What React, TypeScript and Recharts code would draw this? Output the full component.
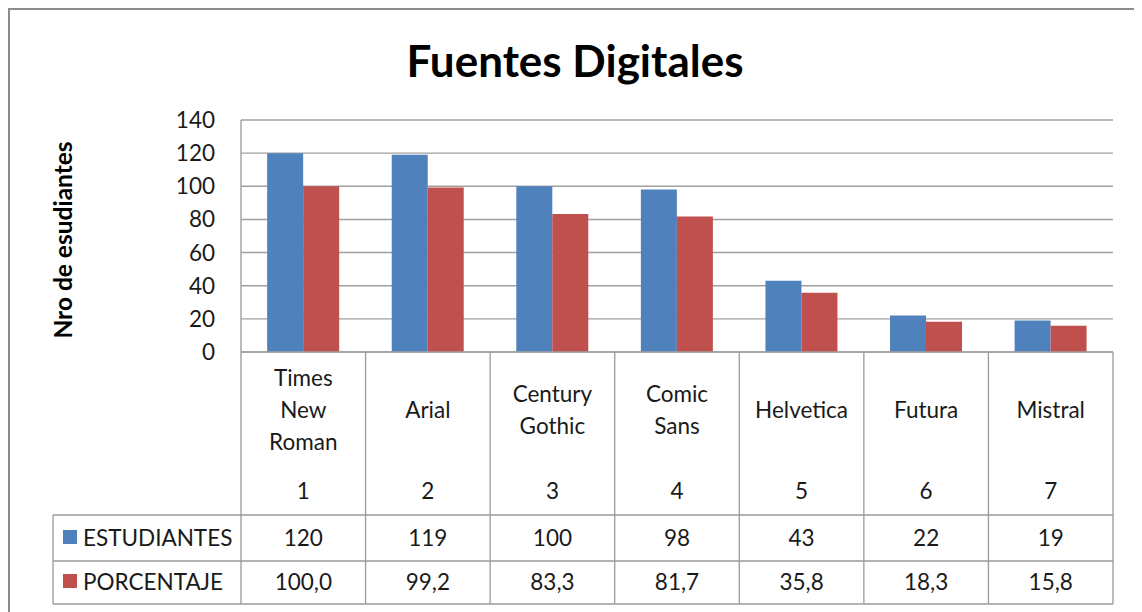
import React from "react";
import { BarChart, Bar, XAxis, YAxis, CartesianGrid } from "recharts";

const categories = [
  "Times New Roman",
  "Arial",
  "Century Gothic",
  "Comic Sans",
  "Helvetica",
  "Futura",
  "Mistral",
];
const categoryLines = [
  ["Times", "New", "Roman"],
  ["Arial"],
  ["Century", "Gothic"],
  ["Comic", "Sans"],
  ["Helvetica"],
  ["Futura"],
  ["Mistral"],
];
const categoryNumbers = ["1", "2", "3", "4", "5", "6", "7"];
const estudiantes = [120, 119, 100, 98, 43, 22, 19];
const porcentaje = [100.0, 99.2, 83.3, 81.7, 35.8, 18.3, 15.8];
const yTicks = [0, 20, 40, 60, 80, 100, 120, 140];

const data = categories.map((name, i) => ({
  name,
  ESTUDIANTES: estudiantes[i],
  PORCENTAJE: porcentaje[i],
}));

const W = 1134;
const H = 604;
const margin = { top: 112, right: 29, left: 0, bottom: 8 };
const Y_AXIS_W = 233;
const X_AXIS_H = 252;
const PLOT_W = W - margin.left - margin.right - Y_AXIS_W;
const BAND = PLOT_W / categories.length;

const BLUE = "#4F81BD";
const RED = "#C0504D";
const GRID = "#a0a0a0";
const TABLE = "#9a9a9a";
const FONT = "Lato, 'Noto Sans', sans-serif";
const TEXT = "#1a1a1a";
const FS = 22.5;

const fmt = (v: number) => v.toFixed(1).replace(".", ",");

const TableTick = (props: any) => {
  const { x, y, index } = props;
  const lines = categoryLines[index];
  const left = x - BAND / 2;
  const right = x + BAND / 2;
  const tableLeft = 45;
  const rowTop = y + 163;
  const rowMid = y + 209;
  const rowBottom = y + 252;
  const last = index === categories.length - 1;
  return (
    <g fontFamily={FONT} fontSize={FS} fill={TEXT}>
      <line x1={left} y1={y} x2={left} y2={rowBottom} stroke={TABLE} strokeWidth={1.3} />
      {last && <line x1={right} y1={y} x2={right} y2={rowBottom} stroke={TABLE} strokeWidth={1.3} />}
      <line x1={left} y1={rowTop} x2={right} y2={rowTop} stroke={TABLE} strokeWidth={1.3} />
      <line x1={left} y1={rowMid} x2={right} y2={rowMid} stroke={TABLE} strokeWidth={1.3} />
      <line x1={left} y1={rowBottom} x2={right} y2={rowBottom} stroke={TABLE} strokeWidth={1.3} />
      {lines.map((t: string, i: number) => (
        <text
          key={t}
          x={x}
          y={y + 57 + (i - (lines.length - 1) / 2) * 32}
          textAnchor="middle"
          dominantBaseline="central"
        >
          {t}
        </text>
      ))}
      <text x={x} y={y + 138} textAnchor="middle" dominantBaseline="central">
        {categoryNumbers[index]}
      </text>
      <text x={x} y={y + 185} textAnchor="middle" dominantBaseline="central">
        {estudiantes[index]}
      </text>
      <text x={x} y={y + 229} textAnchor="middle" dominantBaseline="central">
        {fmt(porcentaje[index])}
      </text>
      {index === 0 && (
        <g>
          <line x1={tableLeft} y1={rowTop} x2={left} y2={rowTop} stroke={TABLE} strokeWidth={1.3} />
          <line x1={tableLeft} y1={rowMid} x2={left} y2={rowMid} stroke={TABLE} strokeWidth={1.3} />
          <line x1={tableLeft} y1={rowBottom} x2={left} y2={rowBottom} stroke={TABLE} strokeWidth={1.3} />
          <line x1={tableLeft} y1={rowTop} x2={tableLeft} y2={rowBottom} stroke={TABLE} strokeWidth={1.3} />
          <rect x={55} y={y + 178} width={14} height={14} fill={BLUE} />
          <text x={75} y={y + 185} dominantBaseline="central">ESTUDIANTES</text>
          <rect x={55} y={y + 222} width={14} height={14} fill={RED} />
          <text x={75} y={y + 229} dominantBaseline="central">PORCENTAJE</text>
        </g>
      )}
    </g>
  );
};

const YTitle = (props: any) => {
  const vb = props.viewBox;
  const cy = vb.y + vb.height / 2 + 4;
  return (
    <text
      x={54}
      y={cy}
      transform={`rotate(-90, 54, ${cy})`}
      textAnchor="middle"
      dominantBaseline="central"
      fontFamily={FONT}
      fontWeight="bold"
      fontSize={24.5}
      fill="#000"
    >
      Nro de esudiantes
    </text>
  );
};

export default function App() {
  return (
    <div style={{ position: "relative", width: W, height: H, background: "#fff" }}>
      <div
        style={{
          position: "absolute",
          left: 0,
          top: 0,
          width: W,
          height: H,
          borderLeft: "2px solid #8c8c8c",
          borderTop: "2px solid #8c8c8c",
          boxSizing: "border-box",
          pointerEvents: "none",
        }}
      />
      <div
        style={{
          position: "absolute",
          left: 0,
          width: W,
          top: 26,
          textAlign: "center",
          fontFamily: FONT,
          fontWeight: "bold",
          fontSize: 44,
          lineHeight: "52px",
          color: "#000",
        }}
      >
        Fuentes Digitales
      </div>
      <BarChart
        width={W}
        height={H}
        data={data}
        margin={margin}
        barCategoryGap="21%"
        barGap={0}
      >
        <CartesianGrid vertical={false} stroke={GRID} strokeWidth={1.4} />
        <XAxis
          dataKey="name"
          height={X_AXIS_H}
          tickLine={false}
          tickSize={0}
          tickMargin={0}
          interval={0}
          axisLine={{ stroke: GRID, strokeWidth: 1.4 }}
          tick={<TableTick />}
        />
        <YAxis
          width={Y_AXIS_W}
          domain={[0, 140]}
          ticks={yTicks}
          tickLine={false}
          tickSize={0}
          tickMargin={26}
          axisLine={{ stroke: GRID, strokeWidth: 1.4 }}
          tick={{ fontFamily: FONT, fontSize: FS, fill: TEXT }}
          label={<YTitle />}
        />
        <Bar dataKey="ESTUDIANTES" fill={BLUE} isAnimationActive={false} />
        <Bar dataKey="PORCENTAJE" fill={RED} isAnimationActive={false} />
      </BarChart>
    </div>
  );
}
